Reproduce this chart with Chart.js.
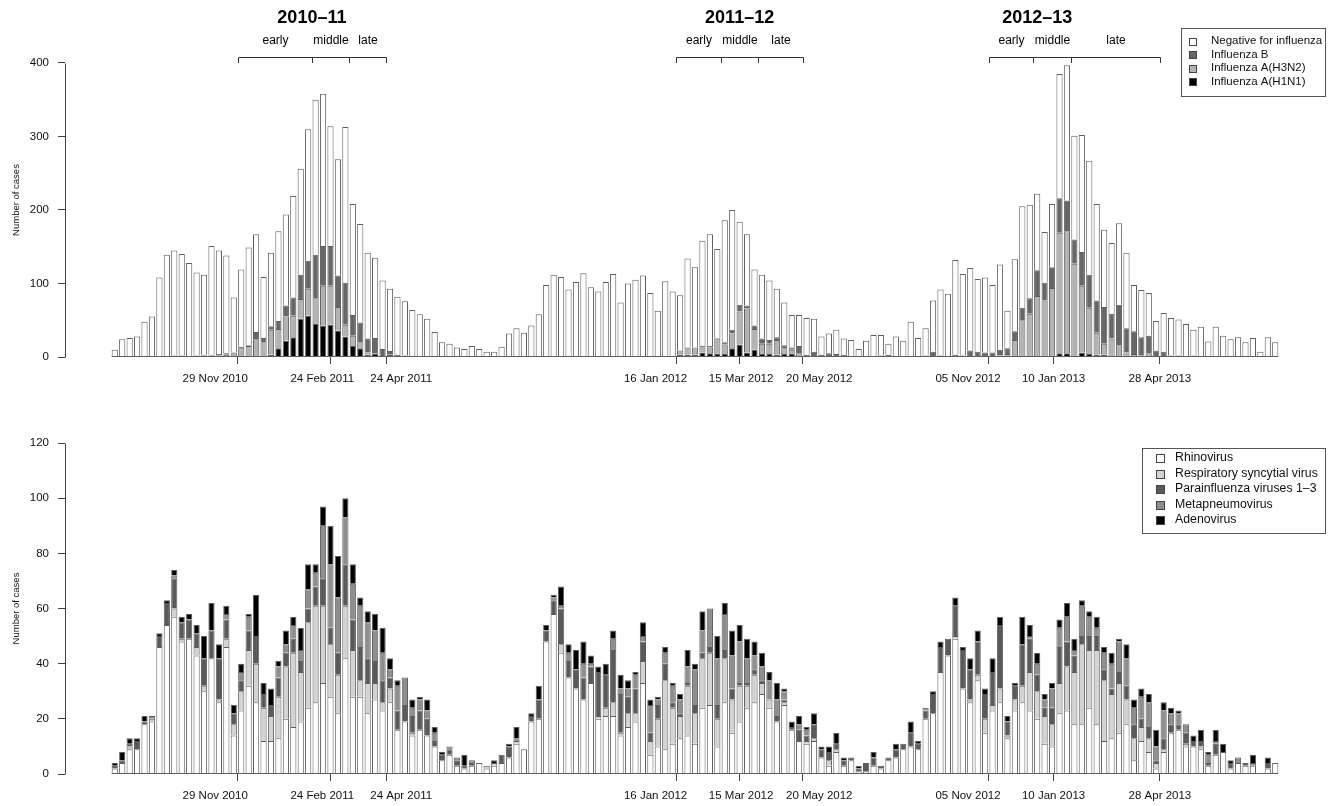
<!DOCTYPE html>
<html>
<head>
<meta charset="utf-8">
<title>Weekly respiratory virus detections, 2010–2013</title>
<script src="https://cdn.jsdelivr.net/npm/chart.js@4/dist/chart.umd.min.js"></script>
<style>
  html, body { margin: 0; padding: 0; background: #ffffff; }
  #wrap { position: relative; width: 1339px; height: 806px; }
  #wrap canvas { position: absolute; left: 0; }
</style>
</head>
<body>
<div id="wrap">
  <canvas id="fluChart" width="1339" height="403" style="top:0px"></canvas>
  <canvas id="respChart" width="1339" height="403" style="top:403px"></canvas>
</div>
<script>
// ---- Weekly counts (week 1 = first reporting week of 2010–11) ----

// Influenza testing, per week
const fluH1N1 = [
  0,0,0,0,0,0,0,0,0,0,   0,0,0,0,0,0,0,1,0,1,
  0,3,12,22,27,52,56,45,43,44,   36,28,15,12,3,4,1,3,0,0,
  0,0,0,0,0,0,0,0,0,0,   0,0,0,0,0,0,0,0,0,0,
  0,0,0,0,0,0,0,0,0,0,   0,0,0,0,0,0,3,3,3,6,
  5,4,4,12,17,6,10,4,4,3,   4,4,0,0,0,0,0,0,0,0,
  0,0,0,0,0,0,0,0,0,0,   0,0,0,0,0,0,0,0,0,0,
  0,0,0,0,0,0,0,5,5,1,   6,4,3,3,0,0,0,0,0,0,
  0,0,0,0,0,0,0,0,0,0,   0,0,0,0,0,0,0
];
const fluH3N2 = [
  0,0,0,0,0,0,0,0,1,1,   0,1,2,2,2,3,5,11,15,23,
  20,34,26,33,29,27,37,35,54,53,   32,16,14,8,3,1,0,0,0,0,
  0,0,0,0,0,0,0,0,0,0,   0,0,0,0,0,0,0,0,0,0,
  0,0,0,0,0,0,0,0,0,0,   0,0,0,0,0,0,6,10,10,7,
  8,21,13,20,45,60,28,14,14,20,   8,6,5,0,0,0,0,0,0,0,
  0,0,0,0,0,0,0,0,0,1,   0,0,0,0,0,0,0,0,0,2,
  4,23,50,59,83,77,94,164,166,126,   91,63,30,15,25,16,6,4,2,5,
  1,0,0,0,0,0,0,0,0,0,   0,0,0,0,0,0,0
];
const fluB = [
  0,1,0,0,1,0,0,1,1,1,   0,1,1,1,2,2,1,2,1,10,
  6,5,11,15,25,33,38,59,54,54,   43,57,28,27,19,21,10,5,3,2,
  1,0,0,0,0,0,0,1,0,0,   0,0,0,0,0,0,0,0,0,0,
  0,1,0,0,0,1,0,0,0,0,   1,0,0,0,1,0,0,0,0,2,
  2,1,3,5,9,4,5,7,5,4,   4,3,10,3,7,3,5,4,3,1,
  0,0,1,2,3,1,1,1,1,1,   7,2,1,3,2,9,7,6,6,8,
  8,12,17,21,35,24,28,47,42,33,   46,45,44,50,34,55,33,31,25,24,
  8,7,2,2,0,2,0,0,0,0,   0,0,0,0,0,0,0
];
const fluNegative = [
  10,23,26,28,47,55,108,138,143,138,   128,113,109,148,141,133,75,105,133,133,
  83,100,122,124,138,144,179,211,207,163,   158,212,151,134,117,109,93,85,79,74,
  63,58,52,34,20,18,13,10,15,11,   7,7,14,32,39,33,43,58,98,112,
  109,91,102,114,95,88,102,113,74,100,   104,111,87,63,102,89,75,121,109,143,
  152,121,166,163,113,97,76,87,81,66,   58,44,42,50,45,25,27,33,22,22,
  11,22,29,28,15,27,21,47,25,37,   70,90,85,129,111,112,99,102,92,116,
  51,98,138,127,104,69,86,169,184,141,   159,155,131,105,96,111,103,63,64,58,
  40,53,51,49,45,35,41,21,41,29,   24,27,20,26,7,27,20
];

// Other respiratory viruses, per week
const rhinovirus = [
  2,4,9,9,18,19,46,54,57,48,   49,43,30,42,26,46,14,23,32,26,
  12,12,13,20,17,19,24,26,33,28,   22,42,28,28,22,27,23,26,16,19,
  14,16,14,10,5,7,3,2,3,4,   2,3,4,6,11,9,19,20,48,58,
  44,35,31,27,33,20,21,21,14,17,   19,33,7,10,9,11,13,14,11,24,
  25,10,26,15,19,24,26,29,24,19,   25,16,12,11,12,6,3,8,3,5,
  1,1,3,2,5,6,9,10,9,20,   22,37,43,49,31,26,34,15,23,26,
  13,23,26,23,20,11,10,22,23,18,   18,24,18,12,13,15,18,5,12,8,
  2,8,15,16,10,10,9,3,7,8,   2,4,3,3,0,2,4
];
const rsv = [
  0,0,1,0,0,1,0,0,3,1,   0,3,2,0,1,3,4,7,13,14,
  12,9,15,19,27,18,31,35,28,19,   14,19,17,6,11,6,3,5,0,0,
  1,0,0,0,0,0,0,0,0,0,   1,1,0,0,1,0,0,0,0,0,
  3,0,0,0,0,1,3,5,1,5,   3,8,5,10,25,13,8,18,11,18,
  19,10,16,12,13,8,10,4,3,0,   1,0,0,1,1,0,2,1,0,0,
  0,0,0,0,0,0,0,0,0,0,   0,0,0,1,0,1,2,5,2,5,
  1,4,6,14,10,10,8,11,16,19,   29,21,27,22,16,18,9,8,5,5,
  2,1,0,0,1,0,1,0,0,0,   0,0,0,0,0,0,0
];
const parainfluenza = [
  1,1,1,3,1,0,4,8,11,6,   7,5,10,10,15,7,4,4,7,10,
  5,4,7,5,5,4,5,7,10,6,   8,15,11,12,9,8,8,4,7,6,
  6,7,6,2,2,2,2,1,1,0,   0,0,3,4,0,0,2,7,4,5,
  13,6,7,8,6,16,12,19,14,6,   9,7,3,5,6,2,1,1,3,2,
  2,5,3,4,1,1,2,1,0,2,   1,1,4,2,5,3,3,2,2,1,
  1,3,3,1,1,3,2,5,2,3,   7,9,6,11,14,11,12,9,12,23,
  5,5,15,12,6,3,6,13,9,6,   3,5,5,4,2,4,5,5,3,4,
  1,4,3,2,4,2,2,1,4,0,   2,0,1,0,0,2,0
];
const metapneumovirus = [
  0,0,0,0,0,1,0,0,1,0,   0,0,0,0,0,2,0,3,5,0,
  0,0,4,3,5,4,7,5,19,23,   20,17,13,15,13,11,10,3,9,10,
  3,4,3,3,0,1,1,0,1,0,   0,0,0,0,1,0,0,0,0,1,
  1,3,0,5,1,0,0,4,2,3,   5,2,10,2,4,6,5,6,13,8,
  14,17,13,12,15,9,5,5,7,6,   3,0,2,2,0,0,0,0,0,0,
  0,0,0,0,0,0,0,0,0,1,   0,0,0,0,0,0,0,0,0,0,
  0,0,0,1,4,3,7,7,9,2,   11,7,3,6,9,11,10,6,8,9,
  5,10,4,4,3,0,0,3,1,0,   0,2,0,1,0,0,0
];
const adenovirus = [
  1,3,2,1,2,0,1,1,2,2,   2,3,8,10,5,3,3,3,1,15,
  4,6,2,5,3,8,9,3,7,14,   15,7,7,3,4,6,9,4,2,0,
  3,1,4,2,1,0,0,4,0,0,   0,1,0,1,4,0,1,5,2,1,
  7,3,7,8,3,2,4,3,5,3,   1,5,2,1,2,1,2,6,2,7,
  0,8,4,9,6,7,5,5,3,6,   1,2,3,1,4,1,2,4,1,0,
  1,0,2,0,0,2,0,4,1,0,   1,2,0,3,1,4,4,2,5,3,
  2,1,10,4,4,2,2,3,5,4,   2,2,4,2,4,1,5,3,3,3,
  6,3,2,1,0,2,4,1,4,3,   1,0,0,3,0,2,0
];

// Week-axis tick marks (week units; .5 = between two weeks) and the date labels
const dateTickWeeks = [17.5, 30, 37.5, 76.5, 85, 93.5, 118.5, 127.2, 141.5];
const dateTickLabels = ['29 Nov 2010', '24 Feb 2011', '24 Apr 2011',
                        '16 Jan 2012', '15 Mar 2012', '20 May 2012',
                        '05 Nov 2012', '10 Jan 2013', '28 Apr 2013'];
// labels are nudged apart where neighbouring dates would collide
const dateLabelWeeks = [14.5, 28.9, 39.5, 73.7, 85.2, 95.7, 115.7, 127.2, 141.5];

// Influenza seasons and their early / middle / late phases
const seasonLabels = ['2010–11', '2011–12', '2012–13'];
const seasonTitleWeeks = [27.5, 85, 125];
const phaseNames = ['early', 'middle', 'late'];
const phaseBounds = [
  [17.5, 27.5, 32.5, 37.5],
  [76.5, 82.5, 87.5, 93.5],
  [118.5, 124.5, 129.5, 141.5]
];

// ---- Drawing ----
const FONT = '"Liberation Sans", Arial, Helvetica, sans-serif';
Chart.defaults.font.family = FONT;
Chart.defaults.color = '#111';

const weekPoints = arr => arr.map((v, i) => ({ x: i + 1, y: v }));
const OUTLINE = '#5e5e5e';
const AXIS = '#444';
const BAR_FRACTION = 1 / 1.2;

function barSet(label, values, fill) {
  return {
    label, data: weekPoints(values), backgroundColor: fill,
    borderColor: OUTLINE, borderWidth: { top: 1, left: 1, right: 1, bottom: 0 },
    borderSkipped: false, barPercentage: BAR_FRACTION, categoryPercentage: 1
  };
}

// baseline under the bars (first to last week) and the value-axis line up to its top tick
const axisLines = {
  id: 'axisLines',
  afterDatasetsDraw(chart) {
    const { ctx, chartArea } = chart;
    const x = chart.scales.x, y = chart.scales.y;
    const n = chart.data.datasets[0].data.length;
    const half = BAR_FRACTION / 2;
    const by = Math.round(chartArea.bottom) - 0.5;
    ctx.save();
    ctx.lineWidth = 1;
    ctx.strokeStyle = OUTLINE;
    ctx.beginPath();
    ctx.moveTo(x.getPixelForValue(1 - half), by);
    ctx.lineTo(x.getPixelForValue(n + half), by);
    ctx.moveTo(x.getPixelForValue(dateTickWeeks[0]), by);
    ctx.lineTo(x.getPixelForValue(dateTickWeeks[dateTickWeeks.length - 1]), by);
    ctx.stroke();
    const ax = Math.round(chartArea.left) + 0.5;
    const topTick = y.ticks[y.ticks.length - 1].value;
    ctx.strokeStyle = AXIS;
    ctx.beginPath();
    ctx.moveTo(ax, y.getPixelForValue(0) + 0.5);
    ctx.lineTo(ax, Math.round(y.getPixelForValue(topTick)) + 0.5);
    ctx.stroke();
    ctx.restore();
  }
};

// season titles with the early/middle/late brackets above the top panel
const seasonMarks = {
  id: 'seasonMarks',
  afterDraw(chart) {
    const { ctx } = chart;
    const x = chart.scales.x;
    ctx.save();
    ctx.fillStyle = '#000';
    ctx.strokeStyle = '#333';
    ctx.lineWidth = 1;
    ctx.textAlign = 'center';
    ctx.textBaseline = 'middle';
    seasonLabels.forEach((name, s) => {
      ctx.font = 'bold 18px ' + FONT;
      ctx.fillText(name, x.getPixelForValue(seasonTitleWeeks[s]), 18);
      const b = phaseBounds[s].map(v => Math.round(x.getPixelForValue(v)) + 0.5);
      ctx.beginPath();
      ctx.moveTo(b[0], 57.5);
      ctx.lineTo(b[b.length - 1], 57.5);
      b.forEach(px => { ctx.moveTo(px, 57.5); ctx.lineTo(px, 63); });
      ctx.stroke();
      ctx.font = '12px ' + FONT;
      phaseNames.forEach((p, k) => ctx.fillText(p, (b[k] + b[k + 1]) / 2, 41));
    });
    ctx.restore();
  }
};

// boxed legend in the top-right corner
const boxLegend = {
  id: 'boxLegend',
  afterDraw(chart, args, o) {
    const { ctx } = chart;
    const sets = chart.data.datasets.slice();
    if (o.reverse) sets.reverse();
    ctx.save();
    ctx.fillStyle = '#fff';
    ctx.fillRect(o.x, o.y, o.w, o.h);
    ctx.strokeStyle = '#555';
    ctx.lineWidth = 1;
    ctx.strokeRect(o.x + 0.5, o.y + 0.5, o.w, o.h);
    ctx.font = o.fontSize + 'px ' + FONT;
    ctx.textBaseline = 'middle';
    ctx.textAlign = 'left';
    sets.forEach((ds, k) => {
      const cy = o.firstRow + k * o.rowGap;
      const top = Math.round(cy - o.swatch / 2) + 0.5;
      ctx.fillStyle = ds.backgroundColor;
      ctx.fillRect(o.swatchX + 0.5, top, o.swatch, o.swatch);
      ctx.strokeStyle = '#444';
      ctx.strokeRect(o.swatchX + 0.5, top, o.swatch, o.swatch);
      ctx.fillStyle = '#111';
      ctx.fillText(ds.label, o.textX, cy);
    });
    ctx.restore();
  }
};

function panelOptions(yMax, yTickMax, yStep, padTop, labelBandHeight, legend) {
  const weekRange = { min: -5.69, max: 163.69 };
  return {
    responsive: false,
    animation: false,
    devicePixelRatio: 1,
    layout: { padding: { top: padTop, right: 14, left: 0, bottom: 0 } },
    plugins: { legend: { display: false }, tooltip: { enabled: false }, boxLegend: legend },
    scales: {
      // tick marks at the dates
      x: {
        type: 'linear', stacked: true, offset: false, ...weekRange,
        afterBuildTicks: s => { s.ticks = dateTickWeeks.map(v => ({ value: v })); },
        afterFit: s => { s.height = 7; },
        ticks: { display: false, autoSkip: false },
        grid: { offset: false, drawOnChartArea: false, drawTicks: true, tickLength: 7, color: AXIS, lineWidth: 1 },
        border: { display: false }
      },
      // the date labels themselves
      xDates: {
        type: 'linear', position: 'bottom', offset: false, ...weekRange,
        afterBuildTicks: s => { s.ticks = dateLabelWeeks.map(v => ({ value: v })); },
        afterFit: s => { s.height = labelBandHeight; },
        ticks: {
          autoSkip: false, maxRotation: 0, padding: 8,
          font: { size: 11.5 }, color: '#111',
          callback: (v, i) => dateTickLabels[i]
        },
        grid: { display: false, drawTicks: false },
        border: { display: false }
      },
      y: {
        stacked: true, min: 0, max: yMax,
        afterFit: s => { s.width = 65; },
        afterBuildTicks: s => { s.ticks = s.ticks.filter(t => t.value <= yTickMax); },
        ticks: { stepSize: yStep, padding: 9, font: { size: 11.5 }, color: '#111' },
        grid: { drawOnChartArea: false, drawTicks: true, tickLength: 7, color: AXIS, lineWidth: 1 },
        border: { display: false },
        title: { display: true, text: 'Number of cases', font: { size: 9.5 }, color: '#111', padding: { top: 11, bottom: 0 } }
      }
    }
  };
}

new Chart(document.getElementById('fluChart'), {
  type: 'bar',
  data: {
    datasets: [
      barSet('Influenza A(H1N1)', fluH1N1, '#000000'),
      barSet('Influenza A(H3N2)', fluH3N2, '#b3b3b3'),
      barSet('Influenza B', fluB, '#676767'),
      barSet('Negative for influenza', fluNegative, '#ffffff')
    ]
  },
  options: panelOptions(427.2, 400, 100, 43, 39, {
    reverse: true,
    x: 1181, y: 28, w: 144, h: 68, fontSize: 11.5,
    firstRow: 41, rowGap: 13.6, swatch: 7, swatchX: 1189, textX: 1211
  }),
  plugins: [axisLines, seasonMarks, boxLegend]
});

new Chart(document.getElementById('respChart'), {
  type: 'bar',
  data: {
    datasets: [
      barSet('Rhinovirus', rhinovirus, '#ffffff'),
      barSet('Respiratory syncytial virus', rsv, '#d3d3d3'),
      barSet('Parainfluenza viruses 1–3', parainfluenza, '#5a5a5a'),
      barSet('Metapneumovirus', metapneumovirus, '#8e8e8e'),
      barSet('Adenovirus', adenovirus, '#000000')
    ]
  },
  options: panelOptions(120, 120, 20, 40, 25, {
    reverse: false,
    x: 1142, y: 45, w: 183, h: 85, fontSize: 12.3,
    firstRow: 55, rowGap: 15.5, swatch: 8, swatchX: 1156, textX: 1175
  }),
  plugins: [axisLines, boxLegend]
});
</script>
</body>
</html>
